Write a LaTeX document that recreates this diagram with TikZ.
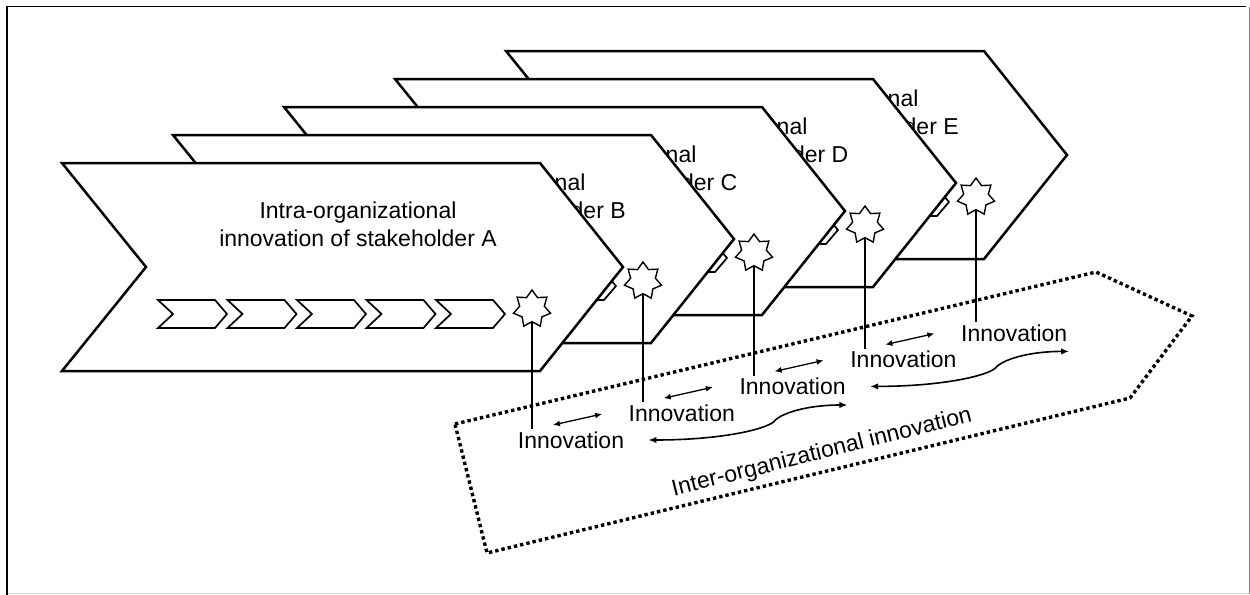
\documentclass[tikz,border=0pt]{standalone}
\usepackage{fontspec}
\setmainfont{Liberation Sans}
\usepackage{tikz}
\usetikzlibrary{
  arrows.meta,
  positioning,
  shapes.geometric,
  calc
}
\newcommand{\stagefont}{\fontsize{11.5}{14}\selectfont}

\tikzset{
  stage/.style={draw=black, fill=white, line width=1.25pt},
  substep/.style={draw=black, fill=white, line width=0.85pt},
  spark/.style={star, star points=7, star point ratio=1.5, draw=black, fill=white, line width=0.7pt, minimum size=19pt, inner sep=0pt},
  stagetext/.style={align=center, font=\stagefont, inner sep=1pt},
  innolabel/.style={font=\stagefont, inner sep=1pt},
  stem/.style={line width=0.6pt},
  link/.style={{Latex[length=3.5pt,width=3pt]}-{Latex[length=3.5pt,width=3pt]}, line width=0.65pt},
  swing/.style={{Latex[length=4pt,width=3.2pt]}-{Latex[length=4pt,width=3.2pt]}, line width=0.8pt},
  interzone/.style={draw=black, line width=1.7pt, dash pattern=on 1.7pt off 1.5pt}
}

\begin{document}
\begin{tikzpicture}[x=0.5pt, y=-0.5pt]
  \useasboundingbox (0,0) rectangle (1250,595);

  % frame
  \draw[line width=0.9pt] (6.8,595) -- (6.8,6.5) -- (1246,6.5);
  \draw[gray, line width=0.5pt] (1249.3,7) -- (1249.3,593.5);
  \draw[gray!30, line width=0.5pt] (8,593.5) -- (1249,593.5);

  % stakeholder chevrons, back to front
  \foreach \k/\name/\tx in {4/E/376, 3/D/376, 2/C/376, 1/B/376, 0/A/358} {
    \begin{scope}[shift={(111*\k,-28*\k)}]
      \draw[stage] (62,163) -- (540,163) -- (623,267) -- (540,371) -- (62,371) -- (146,267) -- cycle;
      \node[stagetext] (intra\name) at (\tx,224) {Intra-organizational\\innovation of stakeholder \name};
      \foreach \i in {0,...,4}
        \draw[substep] ({158+69.5*\i},300) -- ++(57,0) -- ++(12,14) -- ++(-12,14) -- ++(-57,0) -- ++(15,-14) -- cycle;
      \node[spark] (spark\name) at (532,309) {};
    \end{scope}
  }

  % inter-organizational zone
  \draw[interzone] (455,424) -- (1096,272) -- (1192,316) -- (1130,398) -- (487,553) -- cycle;
  \node[stagetext, rotate=14] (inter) at (822,453) {Inter-organizational innovation};

  % innovations and their stems
  \foreach \k/\name in {0/A, 1/B, 2/C, 3/D, 4/E} {
    \node[innolabel] (inno\name) at ({571+110.8*\k},{440-26.8*\k}) {Innovation};
    \draw[stem] (spark\name.south) -- (spark\name.south |- inno\name.north);
  }

  % exchange between neighbours
  \foreach \a in {A,B,C,D} {
    \coordinate (swapL\a) at ($(inno\a)+(-18,-15)$);
    \coordinate (swapR\a) at ($(inno\a)+(31,-26)$);
    \draw[link] (swapL\a) -- (swapR\a);
  }

  % wider exchange
  \foreach \a in {A,C} {
    \coordinate (farL\a) at ($(inno\a.east)+(22,0)$);
    \coordinate (farM\a) at ($(farL\a)+(125,-18)$);
    \coordinate (farR\a) at ($(farL\a)+(199,-35)$);
    \draw[swing] (farL\a) .. controls +(70,0) and +(-10,8) .. (farM\a) .. controls +(7,-9) and +(-40,0) .. (farR\a);
  }
\end{tikzpicture}
\end{document}
